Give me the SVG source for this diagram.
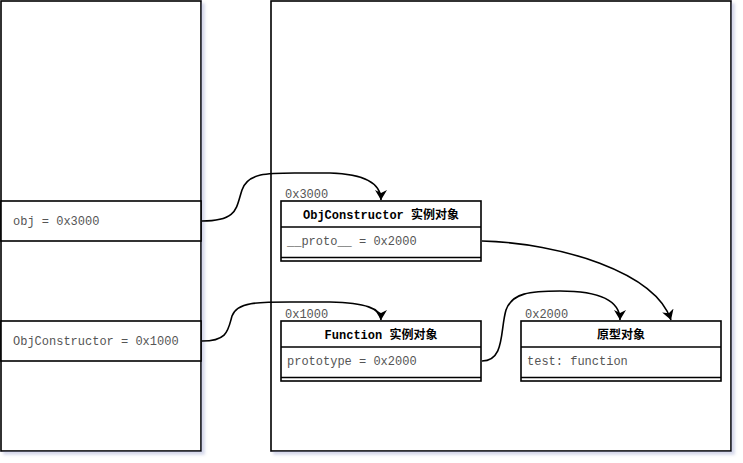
<svg xmlns="http://www.w3.org/2000/svg" width="743" height="463" viewBox="0 0 743 463">
<defs>
<filter id="sh" x="-5%" y="-5%" width="110%" height="110%">
<feDropShadow dx="3" dy="3" stdDeviation="1.5" flood-color="#a0a8d0" flood-opacity="0.45"/>
</filter>
<marker id="arr" viewBox="0 0 10 12" refX="10" refY="6" markerWidth="11" markerHeight="12" markerUnits="userSpaceOnUse" orient="auto">
<path d="M0,0 L10,6 L0,12 L3,6 Z" fill="#000"/>
</marker>
</defs>
<style>
.panel{fill:#fff;stroke:#000;stroke-width:1.6}
.box{fill:#fff;stroke:#000;stroke-width:1.6}
.ln{fill:none;stroke:#000;stroke-width:1.6}
.t{font-family:"Liberation Mono","DejaVu Sans Mono","Noto Sans CJK SC",monospace;font-size:12px;fill:#555}
.h{font-family:"Liberation Mono","Noto Sans CJK SC",monospace;font-size:12px;font-weight:bold;fill:#000;text-anchor:middle}
.edge{fill:none;stroke:#000;stroke-width:1.6;marker-end:url(#arr)}
</style>
<rect width="743" height="463" fill="#fff"/>
<g id="stack">
<rect class="panel" x="1" y="1" width="200" height="450" filter="url(#sh)"/>
<rect class="panel" x="1" y="201" width="200" height="40"/>
<text class="t" x="13" y="225">obj = 0x3000</text>
<rect class="panel" x="1" y="321" width="200" height="40"/>
<text class="t" x="13" y="345">ObjConstructor = 0x1000</text>
</g>
<g id="heap">
<rect class="panel" x="271" y="1" width="460" height="450" filter="url(#sh)"/>
</g>
<g id="obj">
<text class="t" x="285" y="198">0x3000</text>
<rect class="box" x="281" y="201" width="200" height="60"/>
<line class="ln" x1="281" y1="227" x2="481" y2="227"/>
<line class="ln" x1="281" y1="257.5" x2="481" y2="257.5"/>
<text class="h" x="381" y="219">ObjConstructor 实例对象</text>
<text class="t" x="287" y="245">__proto__ = 0x2000</text>
</g>
<g id="func">
<text class="t" x="285" y="318">0x1000</text>
<rect class="box" x="281" y="321" width="200" height="60"/>
<line class="ln" x1="281" y1="347" x2="481" y2="347"/>
<line class="ln" x1="281" y1="377.5" x2="481" y2="377.5"/>
<text class="h" x="381" y="339">Function 实例对象</text>
<text class="t" x="287" y="365">prototype = 0x2000</text>
</g>
<g id="proto">
<text class="t" x="525" y="318">0x2000</text>
<rect class="box" x="521" y="321" width="200" height="60"/>
<line class="ln" x1="521" y1="347" x2="721" y2="347"/>
<line class="ln" x1="521" y1="377.5" x2="721" y2="377.5"/>
<text class="h" x="621" y="339">原型对象</text>
<text class="t" x="527" y="365">test: function</text>
</g>
<g id="connectors">
<path class="edge" d="M202,221 C238,221 236,208 242,190 C248,172 270,173 300,173 L330,173 C365,174 381,184 381,200"/>
<path class="edge" d="M202,341 C228,341 228,330 232,316 C237,302 258,302 290,302 L330,302 C365,303 381,308 381,320"/>
<path class="edge" d="M482,241 C560,243 655,272 671,320"/>
<path class="edge" d="M482,361 C505,361 500,330 506,310 C512,293 530,291 560,291 C600,291 620,300 620,320"/>
</g>
</svg>
